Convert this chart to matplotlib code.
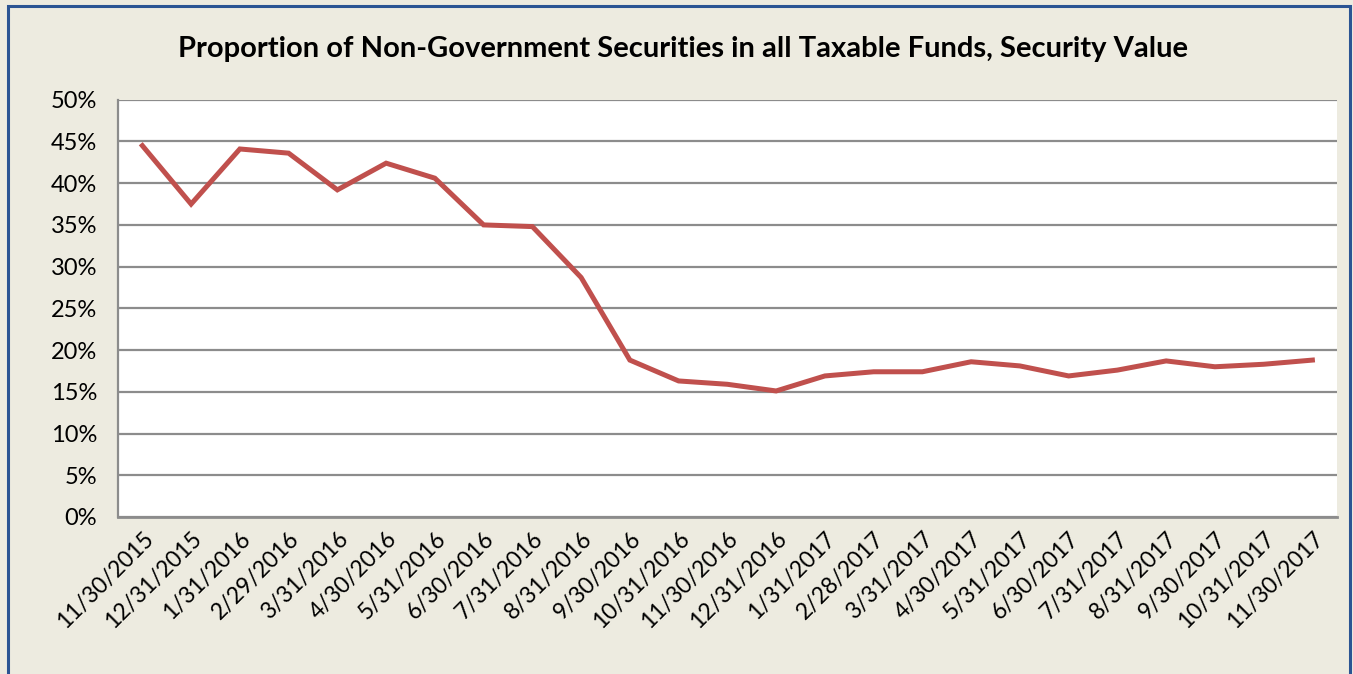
import matplotlib
matplotlib.use("Agg")
from matplotlib import pyplot as plt
from matplotlib.patches import Rectangle
from matplotlib.ticker import FuncFormatter

dates = ["11/30/2015", "12/31/2015", "1/31/2016", "2/29/2016", "3/31/2016",
         "4/30/2016", "5/31/2016", "6/30/2016", "7/31/2016", "8/31/2016",
         "9/30/2016", "10/31/2016", "11/30/2016", "12/31/2016", "1/31/2017",
         "2/28/2017", "3/31/2017", "4/30/2017", "5/31/2017", "6/30/2017",
         "7/31/2017", "8/31/2017", "9/30/2017", "10/31/2017", "11/30/2017"]
share = [44.5, 37.5, 44.1, 43.6, 39.2, 42.4, 40.6, 35.0, 34.8, 28.7,
         18.8, 16.3, 15.9, 15.1, 16.9, 17.4, 17.4, 18.6, 18.1, 16.9,
         17.6, 18.7, 18.0, 18.3, 18.8]
y_ticks = [0, 5, 10, 15, 20, 25, 30, 35, 40, 45, 50]

bg = "#EDEBE0"
plt.rcParams["font.family"] = ["Lato", "DejaVu Sans"]

fig = plt.figure(figsize=(13.53, 6.74), dpi=100, facecolor=bg)
ax = fig.add_axes([0.0872, 0.233, 0.9008, 0.619])
ax.set_facecolor("white")

x = list(range(len(dates)))
ax.plot(x, share, color="#C0504D", linewidth=3.6, solid_joinstyle="miter")

ax.set_xlim(-0.5, len(dates) - 0.5)
ax.set_ylim(0, 50)
ax.set_yticks(y_ticks)
ax.yaxis.set_major_formatter(FuncFormatter(lambda v, p: f"{v:.0f}%"))
ax.set_xticks(x)
ax.set_xticklabels(dates, rotation=45, ha="right", va="top", rotation_mode="anchor")
ax.tick_params(axis="x", length=0, labelsize=16.5, colors="black", pad=8)
ax.tick_params(axis="y", length=0, labelsize=17, colors="black", pad=15)

ax.grid(axis="y", color="#8C8C8C", linewidth=1.6)
ax.set_axisbelow(True)
for side in ["top", "right"]:
    ax.spines[side].set_visible(False)
ax.spines["left"].set_color("#8C8C8C")
ax.spines["left"].set_linewidth(1.6)
ax.spines["bottom"].set_color("#8C8C8C")
ax.spines["bottom"].set_linewidth(2)

fig.text(0.5045, 0.928, "Proportion of Non-Government Securities in all Taxable Funds, Security Value",
         ha="center", va="center", fontsize=21, fontweight="bold")

# outer chart frame
fig.patches.append(Rectangle((8 / 1353, -0.05), 1342 / 1353, 1 - 6 / 674 + 0.05,
                             transform=fig.transFigure, fill=False,
                             edgecolor="#2B5493", linewidth=2.2))

fig.savefig("out.png", dpi=100, facecolor=bg)
